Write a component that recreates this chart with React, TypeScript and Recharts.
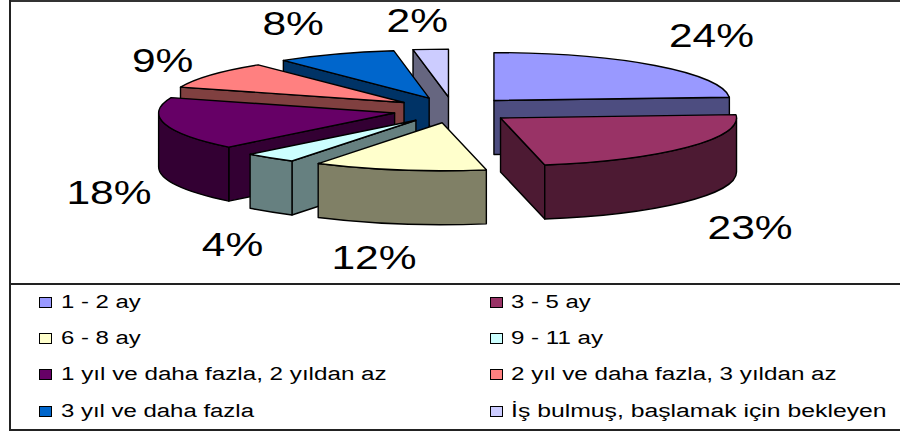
import { PieChart, Pie, Legend } from "recharts";

const CATEGORIES = [
  "1 - 2 ay",
  "3 - 5 ay",
  "6 - 8 ay",
  "9 - 11 ay",
  "1 yıl ve daha fazla, 2 yıldan az",
  "2 yıl ve daha fazla, 3 yıldan az",
  "3 yıl ve daha fazla",
  "İş bulmuş, başlamak için bekleyen",
];
const VALUES = [23.9, 23.1, 11.8, 3.6, 17.8, 9.2, 8.2, 2.4];
const TOP_COLORS = ["#9999FF", "#993366", "#FFFFCC", "#CCFFFF", "#660066", "#FF8080", "#0066CC", "#CCCCFF"];
const SIDE_COLORS = ["#4D4D80", "#4D1A33", "#808066", "#668080", "#330033", "#804040", "#003366", "#666680"];

// back-to-front paint order of the slices
const DRAW_ORDER = [7, 6, 5, 4, 3, 2, 0, 1];

const RATIO = 0.203; // ellipse squash
const DEPTH = 54;
const EXPLODE_X = 60;
const EXPLODE_Y = 13;
const LABEL_NUDGE = [
  [25, -6],
  [26, 59],
  [-17, 54],
  [-9, 60],
  [-11, 60],
  [-11, 5],
  [-24, 0],
  [-10, 4],
];
const LEGEND_STRETCH = [1.33, 1.33, 1.33, 1.34, 1.345, 1.345, 1.33, 1.375];

const data = CATEGORIES.map((name, i) => ({
  name,
  value: VALUES[i],
  fill: TOP_COLORS[i],
}));

const rad = (d: number) => (d * Math.PI) / 180;

const Slice3D = (props: any, slice: number) => {
  if (props.name !== CATEGORIES[slice]) return <g />;
  const { cx, cy, outerRadius: r, startAngle, endAngle } = props;
  // clockwise from the top
  const a0 = 90 - startAngle;
  const a1 = 90 - endAngle;
  const mid = (a0 + a1) / 2;
  const tx = cx + EXPLODE_X * Math.sin(rad(mid));
  const ty = cy - EXPLODE_Y * Math.cos(rad(mid));
  const ry = r * RATIO;
  const px = (a: number) => tx + r * Math.sin(rad(a));
  const py = (a: number) => ty - ry * Math.cos(rad(a));

  const face = (a: number) =>
    `M${tx},${ty} L${px(a)},${py(a)} L${px(a)},${py(a) + DEPTH} L${tx},${ty + DEPTH} Z`;

  const from = Math.max(a0, 90);
  const to = Math.min(a1, 270);
  const wall =
    to > from
      ? `M${px(from)},${py(from)} A${r},${ry} 0 0 1 ${px(to)},${py(to)} L${px(to)},${py(to) + DEPTH} A${r},${ry} 0 0 0 ${px(from)},${py(from) + DEPTH} Z`
      : null;
  const top = `M${tx},${ty} L${px(a0)},${py(a0)} A${r},${ry} 0 ${a1 - a0 > 180 ? 1 : 0} 1 ${px(a1)},${py(a1)} Z`;
  const style = { stroke: "#000", strokeWidth: 1.4, strokeLinejoin: "round" as const };

  return (
    <g>
      {a0 > 180 && <path d={face(a0)} fill={SIDE_COLORS[slice]} {...style} />}
      {a1 < 180 && <path d={face(a1)} fill={SIDE_COLORS[slice]} {...style} />}
      {wall && <path d={wall} fill={SIDE_COLORS[slice]} {...style} />}
      <path d={top} fill={TOP_COLORS[slice]} {...style} />
    </g>
  );
};

const renderLabel = (props: any) => {
  const { cx, cy, midAngle, percent, index } = props;
  const a = 90 - midAngle;
  const x = cx + 1.45 * 236 * Math.sin(rad(a)) + LABEL_NUDGE[index][0];
  const y = cy - 0.4 * 236 * Math.cos(rad(a)) + LABEL_NUDGE[index][1];
  return (
    <text
      key={index}
      transform={`translate(${x},${y}) scale(1.25,1)`}
      textAnchor="middle"
      dominantBaseline="central"
      fontFamily="Liberation Sans"
      fontSize={34}
      fill="#000"
    >
      {Math.round(percent * 100)}%
    </text>
  );
};

const renderLegend = () => (
  <div
    style={{
      display: "grid",
      gridTemplateColumns: "451px 410px",
      gridAutoRows: "36.3px",
      fontFamily: "Liberation Sans",
      fontSize: 18,
      color: "#000",
    }}
  >
    {CATEGORIES.map((name, i) => (
      <div key={name} style={{ display: "flex", alignItems: "center", height: 36.3 }}>
        <span
          style={{
            boxSizing: "border-box",
            width: 13,
            height: 11,
            border: "1.5px solid #000",
            background: TOP_COLORS[i],
            marginRight: i % 2 ? 8 : 9,
            flex: "none",
          }}
        />
        <span
          style={{
            whiteSpace: "nowrap",
            display: "inline-block",
            transform: `scaleX(${LEGEND_STRETCH[i]})`,
            transformOrigin: "left center",
          }}
        >
          {name}
        </span>
      </div>
    ))}
  </div>
);

export default function App() {
  return (
    <div style={{ position: "absolute", left: 0, top: 0, width: 900, height: 435, overflow: "hidden", background: "#fff" }}>
      <div style={{ position: "absolute", left: 9, top: 0, width: 900, height: 2, background: "#333" }} />
      <div style={{ position: "absolute", left: 9, top: 0, width: 2, height: 431, background: "#222" }} />
      <div style={{ position: "absolute", left: 9, top: 283, width: 900, height: 1.5, background: "#222" }} />
      <div style={{ position: "absolute", left: 9, top: 429, width: 900, height: 2, background: "#222" }} />
      <PieChart width={900} height={435} margin={{ top: 0, right: 0, bottom: 0, left: 0 }}>
        {DRAW_ORDER.map((slice, i) => (
          <Pie
            key={slice}
            data={data}
            dataKey="value"
            nameKey="name"
            cx={453}
            cy={110}
            outerRadius={236}
            startAngle={90}
            endAngle={-270}
            stroke="none"
            legendType={i === 0 ? "rect" : "none"}
            label={i === DRAW_ORDER.length - 1 ? renderLabel : false}
            labelLine={false}
            isAnimationActive={false}
            shape={(p: any) => Slice3D(p, slice)}
          />
        ))}
        <Legend
          content={renderLegend}
          wrapperStyle={{ position: "absolute", left: 39, top: 284, width: 861, bottom: "auto", height: 146 }}
        />
      </PieChart>
    </div>
  );
}
